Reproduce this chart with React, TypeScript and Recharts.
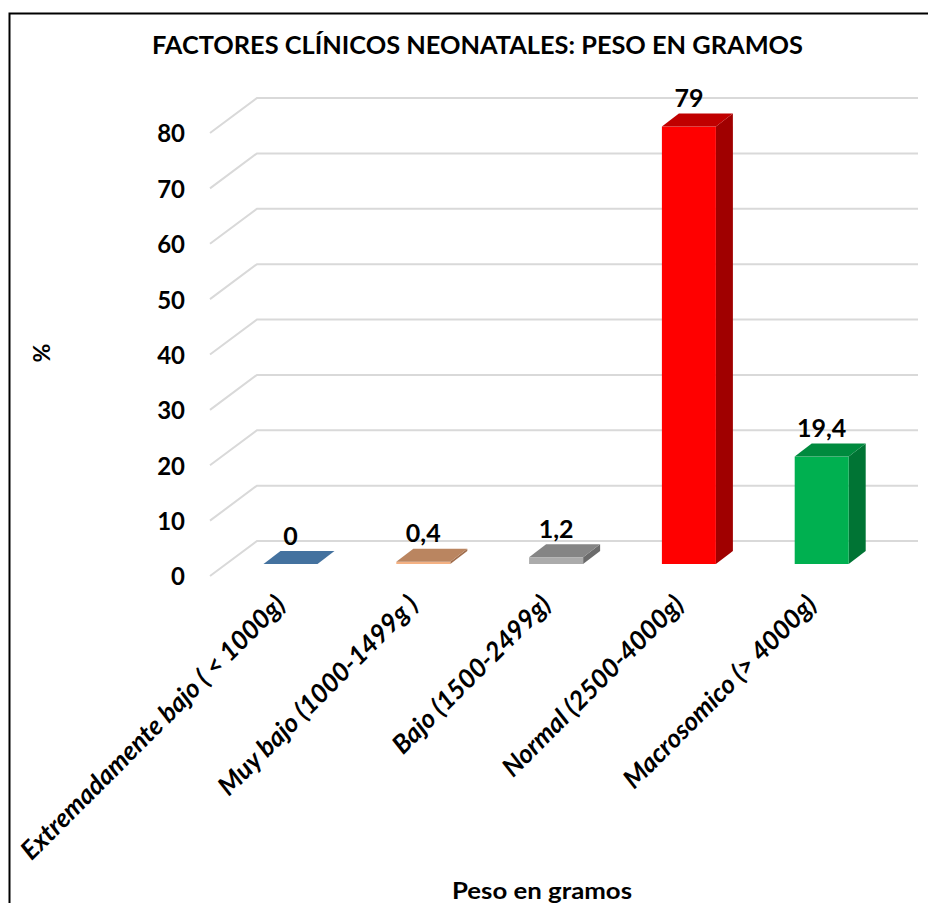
import React from 'react';
import { BarChart, Bar, XAxis, YAxis, CartesianGrid, LabelList } from 'recharts';

const CATEGORIES = [
  'Extremadamente bajo ( < 1000g)',
  'Muy bajo (1000-1499g )',
  'Bajo (1500-2499g)',
  'Normal (2500-4000g)',
  'Macrosomico (> 4000g)',
];
const PERCENTS = [0, 0.4, 1.2, 79, 19.4];
const Y_TICKS = [0, 10, 20, 30, 40, 50, 60, 70, 80];
const TITLE = 'FACTORES CLÍNICOS NEONATALES: PESO EN GRAMOS';
const X_TITLE = 'Peso en gramos';
const Y_TITLE = '%';

const data = CATEGORIES.map((name, i) => ({ name, value: PERCENTS[i] }));

const FACES = [
  { front: '#4F81BD', top: '#44729F', side: '#3A5F85' },
  { front: '#F4B183', top: '#BA8560', side: '#A06D4C' },
  { front: '#ABABAB', top: '#858585', side: '#6B6B6B' },
  { front: '#FF0000', top: '#C00000', side: '#A00000' },
  { front: '#00B050', top: '#008A3E', side: '#007434' },
];

const FONT = "Lato, 'Open Sans', sans-serif";
const W = 920;
const H = 903;
const DX = 17;
const DY = 13;

const Box3D = (props: any) => {
  const { x, y, width, index } = props;
  const h = Math.max(0, props.height || 0);
  const c = FACES[index % FACES.length];
  return (
    <g>
      <polygon
        points={`${x + width},${y} ${x + width + DX},${y - DY} ${x + width + DX},${y + h - DY} ${x + width},${y + h}`}
        fill={c.side}
      />
      {h > 0 && <rect x={x} y={y} width={width} height={h} fill={c.front} />}
      <polygon
        points={`${x},${y} ${x + DX},${y - DY} ${x + width + DX},${y - DY} ${x + width},${y}`}
        fill={c.top}
      />
    </g>
  );
};

const gridLine = (p: any) => {
  const { x1, x2, y1 } = p;
  return (
    <path
      key={`g-${y1}`}
      d={`M${x1 - 14.5},${y1 + 12} L${x1 + 32.5},${y1 - 23} L${x2 + 29.5},${y1 - 23}`}
      stroke="#D9D9D9"
      strokeWidth={2}
      fill="none"
    />
  );
};

const YTick = (p: any) => (
  <text
    x={177}
    y={p.y + 13}
    dy="0.35em"
    textAnchor="end"
    fontFamily={FONT}
    fontWeight={700}
    fontSize={24}
    fill="#000"
  >
    {p.payload.value}
  </text>
);

const XTick = (p: any) => {
  const x = p.x - 4;
  const y = 606;
  return (
    <text
      x={x}
      y={y}
      transform={`rotate(-45 ${x} ${y})`}
      textAnchor="end"
      fontFamily={FONT}
      fontWeight={700}
      fontStyle="italic"
      fontSize={26}
      fill="#000"
    >
      {p.payload.value}
    </text>
  );
};

const ValueLabel = (p: any) => {
  const { x, y, width, value } = p;
  return (
    <text
      x={x + width / 2}
      y={y - 19.5}
      textAnchor="middle"
      fontFamily={FONT}
      fontWeight={700}
      fontSize={25}
      fill="#000"
    >
      {String(value).replace('.', ',')}
    </text>
  );
};

export default function App() {
  return (
    <div style={{ position: 'relative', width: W, height: H, marginTop: -8 }}>
      <BarChart
        width={W}
        height={H}
        data={data}
        margin={{ top: 121, right: 39.5, bottom: 39, left: 156.5 }}
        barSize={54}
      >
        <CartesianGrid vertical={false} horizontal={gridLine} />
        <XAxis
          dataKey="name"
          axisLine={false}
          tickLine={false}
          interval={0}
          height={300}
          tick={<XTick />}
        />
        <YAxis
          domain={[0, 80]}
          ticks={Y_TICKS}
          interval={0}
          axisLine={false}
          tickLine={false}
          width={60}
          tick={<YTick />}
        />
        <Bar dataKey="value" shape={<Box3D />} isAnimationActive={false}>
          <LabelList dataKey="value" content={<ValueLabel />} />
        </Bar>
      </BarChart>
      <svg
        width={W}
        height={H}
        style={{ position: 'absolute', left: 0, top: 0, pointerEvents: 'none', overflow: 'visible' }}
      >
        <path d={`M1.5,${H + 8} V13.5 H${W + 8}`} stroke="#000" strokeWidth={2} fill="none" />
        <text
          x={469.5}
          y={54}
          textAnchor="middle"
          fontFamily={FONT}
          fontWeight={700}
          fontSize={24}
          textLength={651}
          lengthAdjust="spacingAndGlyphs"
          fill="#000"
        >
          {TITLE}
        </text>
        <text
          x={534}
          y={899}
          textAnchor="middle"
          fontFamily={FONT}
          fontWeight={700}
          fontSize={23}
          textLength={180}
          lengthAdjust="spacingAndGlyphs"
          fill="#000"
        >
          {X_TITLE}
        </text>
        <text
          x={34}
          y={353}
          dy="0.35em"
          textAnchor="middle"
          transform="rotate(-90 34 353)"
          fontFamily={FONT}
          fontWeight={700}
          fontSize={23}
          fill="#000"
        >
          {Y_TITLE}
        </text>
      </svg>
    </div>
  );
}
